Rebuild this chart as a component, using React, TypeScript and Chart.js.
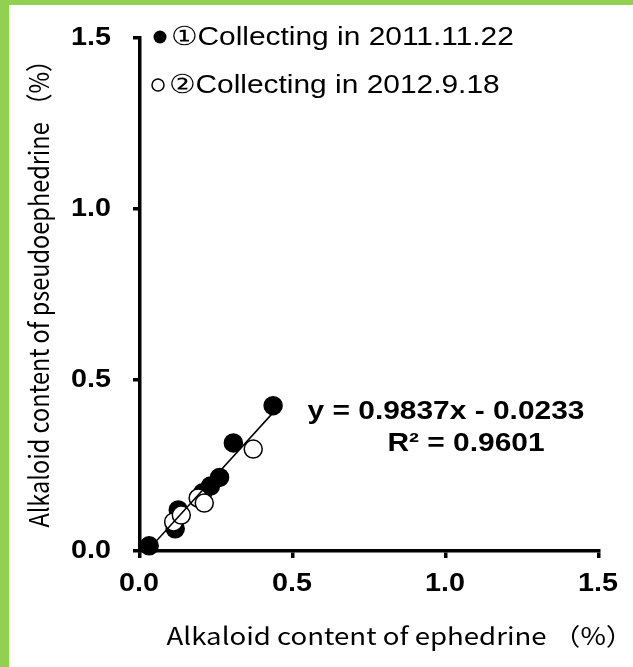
import React, { useEffect, useRef } from "react";
import { Chart, registerables } from "chart.js";

Chart.register(...registerables);

// ---- data ----
const series2011Label = "①Collecting in 2011.11.22";
const series2012Label = "②Collecting in 2012.9.18";
const ephedrine2011 = [0.03, 0.115, 0.125, 0.205, 0.23, 0.26, 0.305, 0.435];
const pseudo2011 = [0.015, 0.065, 0.12, 0.17, 0.19, 0.215, 0.316, 0.425];
const ephedrine2012 = [0.11, 0.135, 0.19, 0.21, 0.37];
const pseudo2012 = [0.085, 0.105, 0.155, 0.14, 0.298];
const trendSlope = 0.9837;
const trendIntercept = -0.0233;
const trendX = [0.0237, 0.435];
const axisTicks = [0, 0.5, 1.0, 1.5];
const xTitle = "Alkaloid content of ephedrine （%）";
const yTitle = "Alkaloid content of pseudoephedrine （%）";
const eqLine1 = "y = 0.9837x - 0.0233";
const eqLine2 = "R² = 0.9601";

const GREEN = "#92D050";
const SX = 1.15; // horizontal text stretch seen in the reference
const ARIAL = "'Liberation Sans', Arial, sans-serif";
const CJK = "'Noto Sans CJK JP', 'Liberation Sans', sans-serif";

function drawText(
  ctx: CanvasRenderingContext2D,
  text: string,
  x: number,
  y: number,
  align: "left" | "center" | "right",
  font: string,
  rotate = false
) {
  ctx.save();
  ctx.font = font;
  ctx.fillStyle = "#000";
  ctx.textBaseline = "middle";
  ctx.textAlign = "left";
  const w = ctx.measureText(text).width;
  ctx.translate(x, y);
  ctx.scale(SX, 1);
  let dx = align === "center" ? -w / 2 : align === "right" ? -w : 0;
  if (rotate) {
    ctx.rotate(-Math.PI / 2);
    dx = -w / 2;
  }
  ctx.fillText(text, dx, 0);
  ctx.restore();
}

const decorPlugin = {
  id: "decor",
  beforeDraw(chart: any) {
    const { ctx, width, height } = chart;
    ctx.save();
    ctx.fillStyle = "#fff";
    ctx.fillRect(0, 0, width, height);
    ctx.fillStyle = GREEN;
    ctx.fillRect(0, 0, width, 5);
    ctx.fillRect(0, 0, 9, height);
    ctx.restore();
  },
  afterDraw(chart: any) {
    const { ctx } = chart;
    const xs = chart.scales.x;
    const ys = chart.scales.y;
    const tickFont = `bold 25px ${ARIAL}`;
    axisTicks.forEach((v) => {
      drawText(ctx, v.toFixed(1), xs.getPixelForValue(v) - 1, 584, "center", tickFont);
      drawText(ctx, v.toFixed(1), 111, ys.getPixelForValue(v), "right", tickFont);
    });
    // axis titles
    drawText(ctx, xTitle, 400, 636, "center", `24px ${CJK}`);
    drawText(ctx, yTitle, 39, 288, "center", `23.5px ${CJK}`, true);
    // legend
    ctx.save();
    ctx.fillStyle = "#000";
    ctx.beginPath();
    ctx.arc(160, 37, 6.5, 0, Math.PI * 2);
    ctx.fill();
    ctx.beginPath();
    ctx.arc(158, 85, 6, 0, Math.PI * 2);
    ctx.fillStyle = "#fff";
    ctx.fill();
    ctx.lineWidth = 1.5;
    ctx.strokeStyle = "#000";
    ctx.stroke();
    ctx.restore();
    drawText(ctx, series2011Label, 171, 38, "left", `26px ${ARIAL}`);
    drawText(ctx, series2012Label, 169, 86, "left", `26px ${ARIAL}`);
    // equation
    drawText(ctx, eqLine1, 446, 412, "center", `bold 26px ${ARIAL}`);
    drawText(ctx, eqLine2, 466, 444, "center", `bold 26px ${ARIAL}`);
  },
};

export default function App() {
  const ref = useRef<HTMLCanvasElement | null>(null);
  useEffect(() => {
    if (!ref.current) return;
    const gridOpts = {
      drawOnChartArea: false,
      drawTicks: true,
      tickLength: 7,
      tickWidth: 3.5,
      lineWidth: 3.5,
      tickColor: "#000",
      color: "#000",
    };
    const chart = new Chart(ref.current, {
      type: "scatter",
      data: {
        datasets: [
          {
            type: "line",
            label: "trend",
            data: trendX.map((x) => ({ x, y: trendSlope * x + trendIntercept })),
            borderColor: "#000",
            borderWidth: 1.5,
            pointRadius: 0,
            fill: false,
            order: 0,
            clip: false,
          } as any,
          {
            label: series2012Label,
            data: ephedrine2012.map((x, i) => ({ x, y: pseudo2012[i] })),
            backgroundColor: "#fff",
            borderColor: "#000",
            borderWidth: 1.5,
            pointRadius: 9,
            order: 1,
            clip: false,
          },
          {
            label: series2011Label,
            data: ephedrine2011.map((x, i) => ({ x, y: pseudo2011[i] })),
            backgroundColor: "#000",
            borderColor: "#000",
            borderWidth: 1.5,
            pointRadius: 9,
            order: 2,
            clip: false,
          },
        ],
      },
      options: {
        responsive: false,
        animation: false,
        layout: { padding: { left: 9, top: 38, right: 34, bottom: 0 } },
        plugins: { legend: { display: false }, tooltip: { enabled: false } },
        scales: {
          x: {
            type: "linear",
            min: 0,
            max: 1.5,
            afterBuildTicks: (s: any) => {
              s.ticks = axisTicks.map((v) => ({ value: v }));
            },
            afterFit: (s: any) => {
              s.height = 116;
            },
            ticks: { display: false },
            grid: gridOpts,
            border: { display: true, color: "#000", width: 3.5 },
            title: { display: false },
          },
          y: {
            type: "linear",
            min: 0,
            max: 1.5,
            afterBuildTicks: (s: any) => {
              s.ticks = axisTicks.map((v) => ({ value: v }));
            },
            afterFit: (s: any) => {
              s.width = 131;
            },
            ticks: { display: false },
            grid: gridOpts,
            border: { display: true, color: "#000", width: 3.5 },
            title: { display: false },
          },
        },
      },
      plugins: [decorPlugin],
    });
    return () => chart.destroy();
  }, []);
  return (
    <div style={{ position: "fixed", left: 0, top: 0, width: 633, height: 667 }}>
      <canvas ref={ref} width={633} height={667} style={{ display: "block" }} />
    </div>
  );
}
